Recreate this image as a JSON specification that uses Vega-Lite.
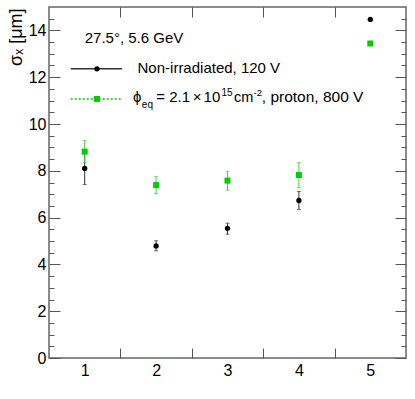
{
  "$schema": "https://vega.github.io/schema/vega-lite/v6.json",
  "width": 357,
  "height": 351,
  "autosize": {"type": "none"},
  "padding": {"left": 49, "top": 7, "right": 9, "bottom": 41},
  "background": "white",
  "data": {"values": [
    {"run": 1, "series": "Non-irradiated, 120 V", "sigma": 8.10, "lo": 7.41, "hi": 8.79},
    {"run": 2, "series": "Non-irradiated, 120 V", "sigma": 4.79, "lo": 4.58, "hi": 5.01},
    {"run": 3, "series": "Non-irradiated, 120 V", "sigma": 5.54, "lo": 5.29, "hi": 5.76},
    {"run": 4, "series": "Non-irradiated, 120 V", "sigma": 6.73, "lo": 6.35, "hi": 7.12},
    {"run": 5, "series": "Non-irradiated, 120 V", "sigma": 14.47, "lo": 14.47, "hi": 14.47},
    {"run": 1, "series": "proton, 800 V", "sigma": 8.82, "lo": 8.35, "hi": 9.29},
    {"run": 2, "series": "proton, 800 V", "sigma": 7.39, "lo": 7.02, "hi": 7.76},
    {"run": 3, "series": "proton, 800 V", "sigma": 7.58, "lo": 7.17, "hi": 7.96},
    {"run": 4, "series": "proton, 800 V", "sigma": 7.82, "lo": 7.28, "hi": 8.35},
    {"run": 5, "series": "proton, 800 V", "sigma": 13.44, "lo": 13.44, "hi": 13.44}
  ]},
  "resolve": {"axis": {"x": "independent", "y": "independent"}},
  "layer": [
    {
      "transform": [{"filter": "datum.series == 'Non-irradiated, 120 V'"}],
      "mark": {"type": "rule", "color": "#333", "strokeWidth": 1},
      "encoding": {
        "x": {"field": "run", "type": "quantitative", "scale": {"domain": [0.5, 5.5], "nice": false, "zero": false},
              "axis": {"orient": "bottom", "values": [1, 2, 3, 4, 5], "ticks": false, "labelPadding": 4, "title": null, "labelFontSize": 16}},
        "y": {"field": "lo", "type": "quantitative", "scale": {"domain": [0, 15], "nice": false, "zero": false},
              "axis": {"orient": "left", "values": [0, 2, 4, 6, 8, 10, 12, 14], "ticks": false, "labelPadding": 3, "labelFontSize": 16,
                       "title": "σₓ [μm]", "titleFontSize": 18, "titleFontWeight": "normal", "titleAngle": -90, "titleAlign": "right",
                       "titleBaseline": "alphabetic", "titleAnchor": "end", "titleX": -28, "titleY": 1}},
        "y2": {"field": "hi"}
      }
    },
    {
      "transform": [{"filter": "datum.series == 'Non-irradiated, 120 V'"}],
      "mark": {"type": "tick", "orient": "horizontal", "color": "#333", "size": 4, "thickness": 1},
      "encoding": {
        "x": {"field": "run", "type": "quantitative", "scale": {"domain": [0.5, 5.5], "nice": false, "zero": false},
              "axis": {"orient": "bottom", "values": [1.5, 2.5, 3.5, 4.5], "labels": false, "tickSize": -10, "title": null}},
        "y": {"field": "lo", "type": "quantitative", "scale": {"domain": [0, 15], "nice": false, "zero": false},
              "axis": {"orient": "left", "values": [0, 2, 4, 6, 8, 10, 12, 14], "labels": false, "tickSize": -11, "title": null}}
      }
    },
    {
      "transform": [{"filter": "datum.series == 'Non-irradiated, 120 V'"}],
      "mark": {"type": "tick", "orient": "horizontal", "color": "#333", "size": 4, "thickness": 1},
      "encoding": {
        "x": {"field": "run", "type": "quantitative", "scale": {"domain": [0.5, 5.5], "nice": false, "zero": false},
              "axis": {"orient": "top", "values": [1.5, 2.5, 3.5, 4.5], "labels": false, "tickSize": -10, "title": null}},
        "y": {"field": "hi", "type": "quantitative", "scale": {"domain": [0, 15], "nice": false, "zero": false},
              "axis": {"orient": "left", "values": [0.5, 1, 1.5, 2.5, 3, 3.5, 4.5, 5, 5.5, 6.5, 7, 7.5, 8.5, 9, 9.5, 10.5, 11, 11.5, 12.5, 13, 13.5, 14.5], "labels": false, "tickSize": -5, "title": null}}
      }
    },
    {
      "transform": [{"filter": "datum.series == 'Non-irradiated, 120 V'"}],
      "mark": {"type": "point", "shape": "circle", "filled": true, "color": "#000", "size": 28, "opacity": 1},
      "encoding": {
        "x": {"field": "run", "type": "quantitative", "scale": {"domain": [0.5, 5.5], "nice": false, "zero": false}, "axis": null},
        "y": {"field": "sigma", "type": "quantitative", "scale": {"domain": [0, 15], "nice": false, "zero": false},
              "axis": {"orient": "right", "values": [0, 2, 4, 6, 8, 10, 12, 14], "labels": false, "tickSize": -11, "title": null}}
      }
    },
    {
      "transform": [{"filter": "datum.series == 'proton, 800 V'"}],
      "mark": {"type": "rule", "color": "#3fd43f", "strokeWidth": 1},
      "encoding": {
        "x": {"field": "run", "type": "quantitative", "scale": {"domain": [0.5, 5.5], "nice": false, "zero": false}, "axis": null},
        "y": {"field": "lo", "type": "quantitative", "scale": {"domain": [0, 15], "nice": false, "zero": false},
              "axis": {"orient": "right", "values": [0.5, 1, 1.5, 2.5, 3, 3.5, 4.5, 5, 5.5, 6.5, 7, 7.5, 8.5, 9, 9.5, 10.5, 11, 11.5, 12.5, 13, 13.5, 14.5], "labels": false, "tickSize": -5, "title": null}},
        "y2": {"field": "hi"}
      }
    },
    {
      "transform": [{"filter": "datum.series == 'proton, 800 V'"}],
      "mark": {"type": "tick", "orient": "horizontal", "color": "#3fd43f", "size": 4, "thickness": 1},
      "encoding": {
        "x": {"field": "run", "type": "quantitative", "scale": {"domain": [0.5, 5.5], "nice": false, "zero": false}, "axis": null},
        "y": {"field": "lo", "type": "quantitative", "scale": {"domain": [0, 15], "nice": false, "zero": false}, "axis": null}
      }
    },
    {
      "transform": [{"filter": "datum.series == 'proton, 800 V'"}],
      "mark": {"type": "tick", "orient": "horizontal", "color": "#3fd43f", "size": 4, "thickness": 1},
      "encoding": {
        "x": {"field": "run", "type": "quantitative", "scale": {"domain": [0.5, 5.5], "nice": false, "zero": false}, "axis": null},
        "y": {"field": "hi", "type": "quantitative", "scale": {"domain": [0, 15], "nice": false, "zero": false}, "axis": null}
      }
    },
    {
      "transform": [{"filter": "datum.series == 'proton, 800 V'"}],
      "mark": {"type": "point", "shape": "square", "filled": true, "color": "#00cc00", "size": 36, "opacity": 1},
      "encoding": {
        "x": {"field": "run", "type": "quantitative", "scale": {"domain": [0.5, 5.5], "nice": false, "zero": false}, "axis": null},
        "y": {"field": "sigma", "type": "quantitative", "scale": {"domain": [0, 15], "nice": false, "zero": false}, "axis": null}
      }
    },
    {
      "data": {"values": [{}]},
      "mark": {"type": "rule", "color": "#333", "strokeWidth": 1.5},
      "encoding": {
        "x": {"datum": 0.804, "type": "quantitative", "scale": {"domain": [0.5, 5.5], "nice": false, "zero": false}, "axis": null},
        "x2": {"datum": 1.521},
        "y": {"datum": 12.36, "type": "quantitative", "scale": {"domain": [0, 15], "nice": false, "zero": false}, "axis": null}
      }
    },
    {
      "data": {"values": [{}]},
      "mark": {"type": "point", "shape": "circle", "filled": true, "color": "#000", "size": 28, "opacity": 1},
      "encoding": {
        "x": {"datum": 1.172, "type": "quantitative", "scale": {"domain": [0.5, 5.5], "nice": false, "zero": false}, "axis": null},
        "y": {"datum": 12.36, "type": "quantitative", "scale": {"domain": [0, 15], "nice": false, "zero": false}, "axis": null}
      }
    },
    {
      "data": {"values": [{}]},
      "mark": {"type": "rule", "color": "#00cc00", "strokeWidth": 1.5, "strokeDash": [2, 2]},
      "encoding": {
        "x": {"datum": 0.804, "type": "quantitative", "scale": {"domain": [0.5, 5.5], "nice": false, "zero": false}, "axis": null},
        "x2": {"datum": 1.521},
        "y": {"datum": 11.07, "type": "quantitative", "scale": {"domain": [0, 15], "nice": false, "zero": false}, "axis": null}
      }
    },
    {
      "data": {"values": [{}]},
      "mark": {"type": "point", "shape": "square", "filled": true, "color": "#00cc00", "size": 36, "opacity": 1},
      "encoding": {
        "x": {"datum": 1.172, "type": "quantitative", "scale": {"domain": [0.5, 5.5], "nice": false, "zero": false}, "axis": null},
        "y": {"datum": 11.07, "type": "quantitative", "scale": {"domain": [0, 15], "nice": false, "zero": false}, "axis": null}
      }
    },
    {
      "data": {"values": [{}]},
      "mark": {"type": "text", "text": "27.5°, 5.6 GeV", "align": "left", "baseline": "alphabetic", "font": "Liberation Sans", "fontSize": 15, "color": "#000"},
      "encoding": {
        "x": {"datum": 1.0, "type": "quantitative", "scale": {"domain": [0.5, 5.5], "nice": false, "zero": false}, "axis": null},
        "y": {"datum": 13.46, "type": "quantitative", "scale": {"domain": [0, 15], "nice": false, "zero": false}, "axis": null}
      }
    },
    {
      "data": {"values": [{}]},
      "mark": {"type": "text", "text": "Non-irradiated, 120 V", "align": "left", "baseline": "alphabetic", "font": "Liberation Sans", "fontSize": 15, "color": "#000"},
      "encoding": {
        "x": {"datum": 1.74, "type": "quantitative", "scale": {"domain": [0.5, 5.5], "nice": false, "zero": false}, "axis": null},
        "y": {"datum": 12.17, "type": "quantitative", "scale": {"domain": [0, 15], "nice": false, "zero": false}, "axis": null}
      }
    },
    {
      "data": {"values": [{}]},
      "mark": {"type": "text", "text": "ϕ", "align": "left", "baseline": "alphabetic", "font": "Liberation Sans", "fontSize": 15, "color": "#000"},
      "encoding": {
        "x": {"datum": 1.675, "type": "quantitative", "scale": {"domain": [0.5, 5.5], "nice": false, "zero": false}, "axis": null},
        "y": {"datum": 10.93, "type": "quantitative", "scale": {"domain": [0, 15], "nice": false, "zero": false}, "axis": null}
      }
    },
    {
      "data": {"values": [{}]},
      "mark": {"type": "text", "text": "eq", "align": "left", "baseline": "alphabetic", "font": "Liberation Sans", "fontSize": 10, "color": "#000"},
      "encoding": {
        "x": {"datum": 1.8, "type": "quantitative", "scale": {"domain": [0.5, 5.5], "nice": false, "zero": false}, "axis": null},
        "y": {"datum": 10.68, "type": "quantitative", "scale": {"domain": [0, 15], "nice": false, "zero": false}, "axis": null}
      }
    },
    {
      "data": {"values": [{}]},
      "mark": {"type": "text", "text": "= 2.1", "align": "left", "baseline": "alphabetic", "font": "Liberation Sans", "fontSize": 15, "color": "#000"},
      "encoding": {
        "x": {"datum": 2.003, "type": "quantitative", "scale": {"domain": [0.5, 5.5], "nice": false, "zero": false}, "axis": null},
        "y": {"datum": 10.93, "type": "quantitative", "scale": {"domain": [0, 15], "nice": false, "zero": false}, "axis": null}
      }
    },
    {
      "data": {"values": [{}]},
      "mark": {"type": "text", "text": "×", "align": "left", "baseline": "alphabetic", "font": "Liberation Sans", "fontSize": 15, "color": "#000"},
      "encoding": {
        "x": {"datum": 2.515, "type": "quantitative", "scale": {"domain": [0.5, 5.5], "nice": false, "zero": false}, "axis": null},
        "y": {"datum": 10.93, "type": "quantitative", "scale": {"domain": [0, 15], "nice": false, "zero": false}, "axis": null}
      }
    },
    {
      "data": {"values": [{}]},
      "mark": {"type": "text", "text": "10", "align": "left", "baseline": "alphabetic", "font": "Liberation Sans", "fontSize": 15, "color": "#000"},
      "encoding": {
        "x": {"datum": 2.665, "type": "quantitative", "scale": {"domain": [0.5, 5.5], "nice": false, "zero": false}, "axis": null},
        "y": {"datum": 10.93, "type": "quantitative", "scale": {"domain": [0, 15], "nice": false, "zero": false}, "axis": null}
      }
    },
    {
      "data": {"values": [{}]},
      "mark": {"type": "text", "text": "15", "align": "left", "baseline": "alphabetic", "font": "Liberation Sans", "fontSize": 10, "color": "#000"},
      "encoding": {
        "x": {"datum": 2.915, "type": "quantitative", "scale": {"domain": [0.5, 5.5], "nice": false, "zero": false}, "axis": null},
        "y": {"datum": 11.2, "type": "quantitative", "scale": {"domain": [0, 15], "nice": false, "zero": false}, "axis": null}
      }
    },
    {
      "data": {"values": [{}]},
      "mark": {"type": "text", "text": "cm", "align": "left", "baseline": "alphabetic", "font": "Liberation Sans", "fontSize": 14.5, "color": "#000"},
      "encoding": {
        "x": {"datum": 3.09, "type": "quantitative", "scale": {"domain": [0.5, 5.5], "nice": false, "zero": false}, "axis": null},
        "y": {"datum": 10.93, "type": "quantitative", "scale": {"domain": [0, 15], "nice": false, "zero": false}, "axis": null}
      }
    },
    {
      "data": {"values": [{}]},
      "mark": {"type": "text", "text": "-2", "align": "left", "baseline": "alphabetic", "font": "Liberation Sans", "fontSize": 9.5, "color": "#000"},
      "encoding": {
        "x": {"datum": 3.365, "type": "quantitative", "scale": {"domain": [0.5, 5.5], "nice": false, "zero": false}, "axis": null},
        "y": {"datum": 11.2, "type": "quantitative", "scale": {"domain": [0, 15], "nice": false, "zero": false}, "axis": null}
      }
    },
    {
      "data": {"values": [{}]},
      "mark": {"type": "text", "text": ", proton, 800 V", "align": "left", "baseline": "alphabetic", "font": "Liberation Sans", "fontSize": 15.5, "color": "#000"},
      "encoding": {
        "x": {"datum": 3.48, "type": "quantitative", "scale": {"domain": [0.5, 5.5], "nice": false, "zero": false}, "axis": null},
        "y": {"datum": 10.93, "type": "quantitative", "scale": {"domain": [0, 15], "nice": false, "zero": false}, "axis": null}
      }
    }
  ],
  "config": {
    "view": {"stroke": "#666", "strokeWidth": 1.5},
    "axis": {"domain": false, "grid": false, "tickColor": "#555", "tickWidth": 1, "labelFont": "Liberation Sans", "labelFontSize": 16, "labelColor": "#000", "titleFont": "Liberation Sans", "titleColor": "#000"}
  }
}
